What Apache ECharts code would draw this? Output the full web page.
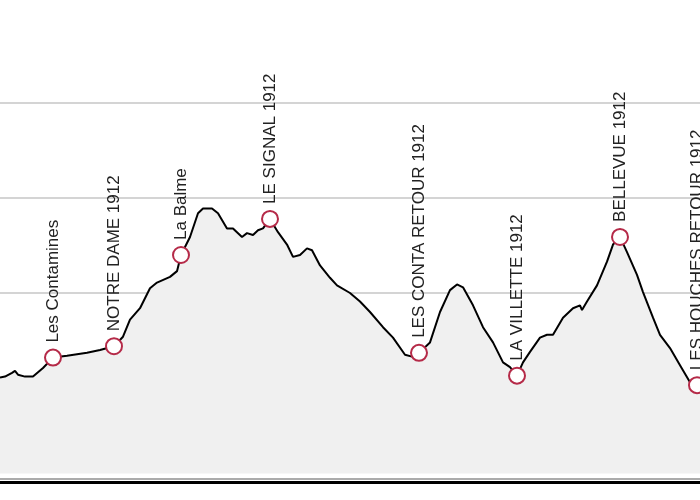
<!DOCTYPE html>
<html>
<head>
<meta charset="utf-8">
<script src="https://cdn.jsdelivr.net/npm/echarts@6/dist/echarts.min.js"></script>
<style>html,body{margin:0;padding:0;background:#fff}#c{width:700px;height:500px}</style>
</head>
<body>
<div id="c"></div>
<script>
// distance (km) and elevation (m) of the profile
const dist = [0,0.5,1.2,1.5,1.8,2.5,3.3,4.3,5.3,6.7,8.7,10.0,11.4,12.3,13.0,14.0,15.0,15.7,17.0,17.7,18.1,19.0,19.8,20.3,21.2,21.8,22.7,23.3,23.5,24.2,24.7,25.3,25.8,26.3,27.0,27.8,28.7,29.3,30.0,30.7,31.2,32.0,33.0,33.7,35.0,36.0,37.0,38.3,39.3,40.5,41.2,41.9,43.0,44.0,45.0,45.7,46.3,47.3,48.3,49.3,50.3,51.0,51.7,52.3,53.0,54.0,54.7,55.3,56.3,57.3,58.0,58.2,58.7,59.7,60.7,61.3,62.0,62.7,63.7,64.3,65.3,66.0,67.0,68.0,69.0,69.7,70.0];
const elev = [1111,1112,1116,1118,1114,1112,1112,1121,1132,1134,1137,1140,1144,1154,1172,1184,1205,1211,1217,1223,1240,1259,1284,1289,1289,1284,1268,1268,1266,1259,1263,1261,1266,1268,1278,1264,1251,1238,1240,1247,1245,1229,1216,1208,1200,1191,1180,1164,1153,1135,1133,1137,1148,1180,1203,1209,1206,1187,1164,1148,1127,1122,1113,1127,1138,1153,1156,1156,1174,1184,1187,1182,1191,1208,1233,1251,1259,1243,1219,1201,1174,1156,1142,1124,1106,1103,1100];

// waypoints
const wpNames = ["Les Contamines","NOTRE DAME 1912","La Balme","LE SIGNAL 1912","LES CONTA RETOUR 1912","LA VILLETTE 1912","BELLEVUE 1912","LES HOUCHES RETOUR 1912"];
const wpDist = [5.3,11.4,18.1,27.0,41.9,51.7,62.0,69.7];
const wpElev = [1132,1144,1240,1278,1137,1113,1259,1103];

const chart = echarts.init(document.getElementById('c'), null, {renderer:'canvas'});
chart.setOption({
  backgroundColor:'#fff',
  animation:false,
  grid:{left:0,right:0,top:8,bottom:17},
  xAxis:[
    {type:'value',min:0,max:70,offset:-1,axisLine:{show:true,lineStyle:{color:'#000',width:3}},axisTick:{show:false},axisLabel:{show:false},splitLine:{show:false}},
    {type:'value',min:0,max:70,position:'bottom',offset:-4,axisLine:{show:true,lineStyle:{color:'#ababab',width:2}},axisTick:{show:false},axisLabel:{show:false},splitLine:{show:false}}
  ],
  yAxis:{type:'value',min:1000,max:1500,interval:100,axisLine:{show:false},axisTick:{show:false},axisLabel:{show:false},
    splitLine:{show:true,showMinLine:false,showMaxLine:false,lineStyle:{color:'#d4d4d4',width:2}}},
  series:[
    {type:'line',xAxisIndex:0,data:dist.map((d,i)=>[d,elev[i]]),showSymbol:false,symbol:'none',
     lineStyle:{color:'#000',width:2},areaStyle:{color:'#f0f0f0',opacity:1,origin:1010},z:2},
    {type:'scatter',xAxisIndex:0,data:wpDist.map((d,i)=>({value:[d,wpElev[i]],name:wpNames[i]})),
     symbol:'circle',symbolSize:16,itemStyle:{color:'#fff',borderColor:'#b52a48',borderWidth:2,opacity:1},z:3,
     label:{show:true,formatter:p=>p.name,position:'top',rotate:90,align:'left',verticalAlign:'middle',distance:6,
       fontFamily:'Liberation Sans, Arial, sans-serif',fontSize:17,color:'#222'}}
  ]
});
</script>
</body>
</html>
